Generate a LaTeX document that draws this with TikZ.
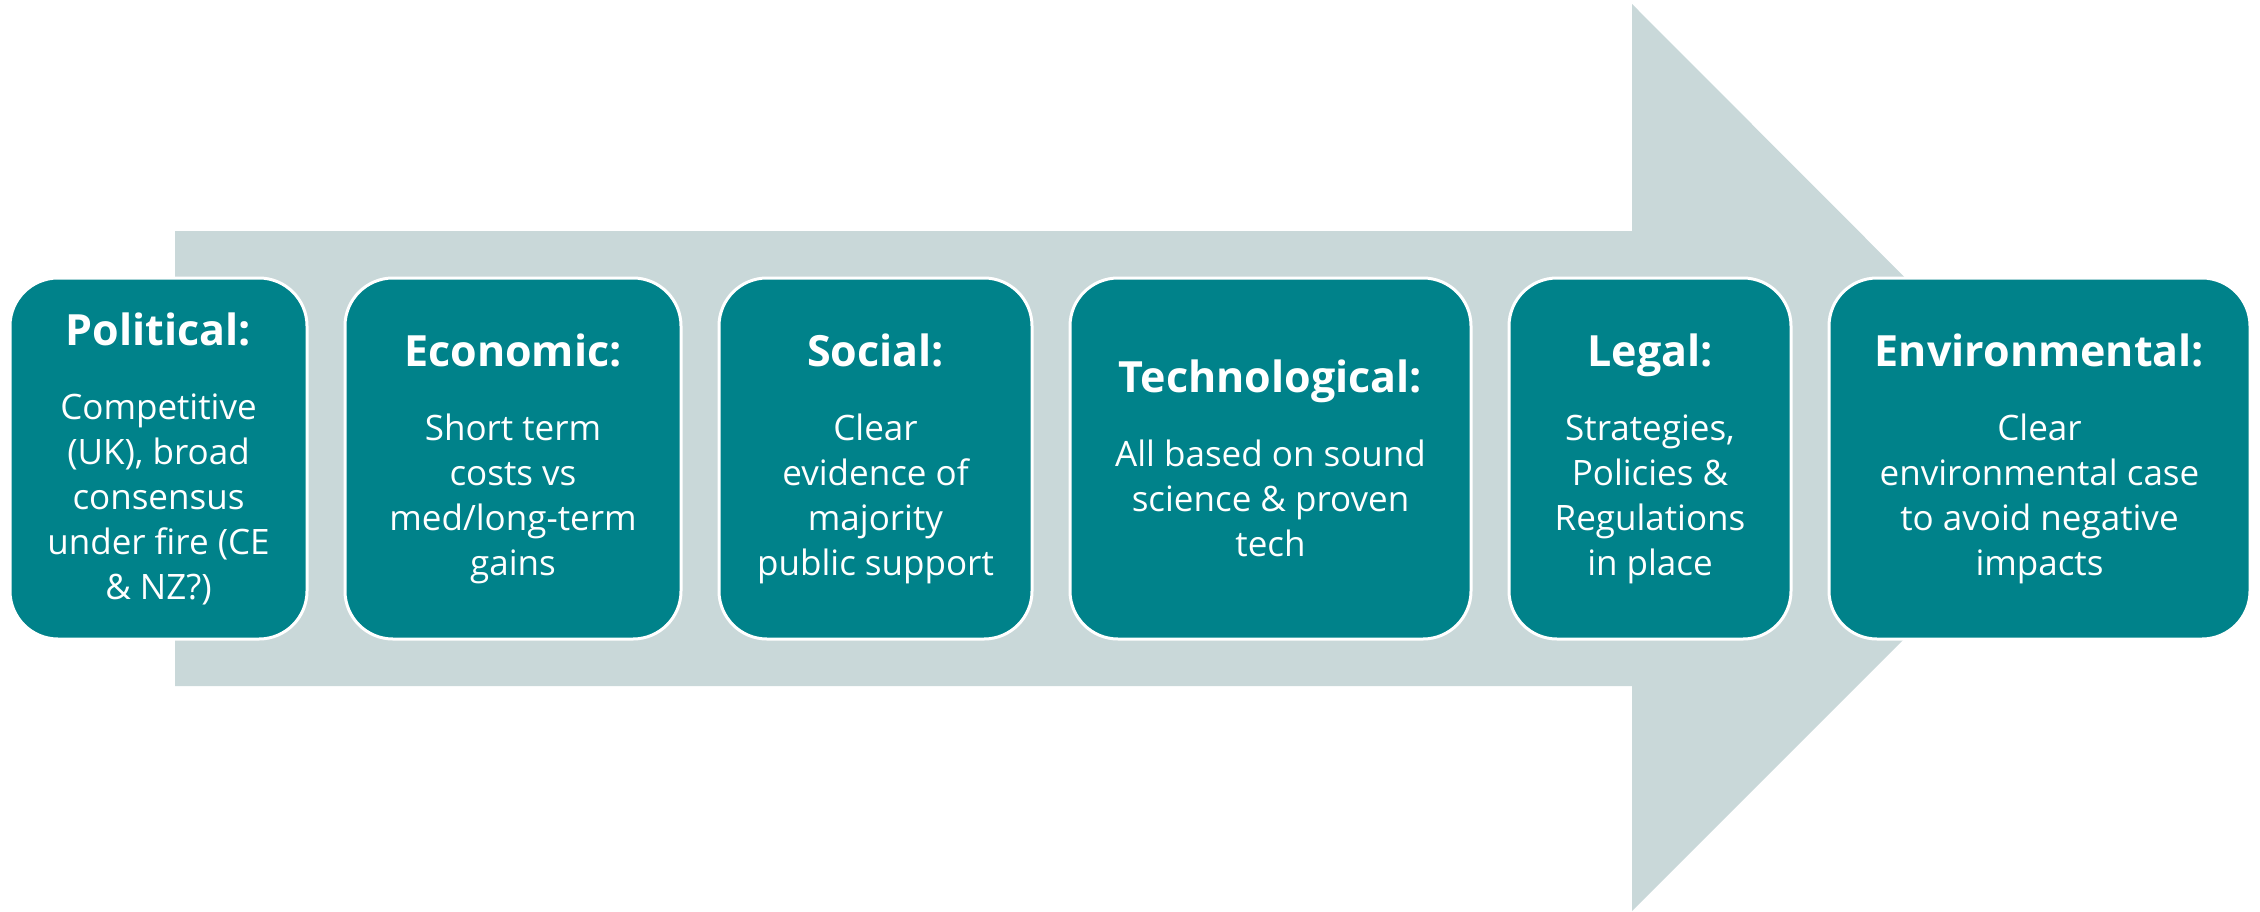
\documentclass[tikz,border=0pt]{standalone}
\usepackage{fontspec}
\setmainfont{Open Sans}
\usetikzlibrary{positioning}
\definecolor{pestTeal}{RGB}{0,130,138}
\definecolor{arrowGrey}{RGB}{201,216,217}
\newcommand{\pestHead}[1]{{\fontsize{21.5pt}{26pt}\selectfont\bfseries #1}\\[14.5pt]}
\begin{document}
\begin{tikzpicture}[x=0.5pt,y=-0.5pt,
  pestbox/.style={draw=white,line width=1.5pt,fill=pestTeal,text=white,
    rounded corners=24pt,minimum height=180.5pt,inner sep=0pt,outer sep=0pt,
    align=center,font=\fontsize{17.5pt}{22.5pt}\selectfont}]
\useasboundingbox (0,0) rectangle (2260,911);
% big arrow behind
\fill[arrowGrey] (175,231)--(1632,231)--(1632,4)--(2085,458)--(1632,911)--(1632,686)--(175,686)--cycle;
\node[pestbox,minimum width=148.5pt] (pol) at (158.5,458.5)
  {\pestHead{Political:}Competitive\\(UK), broad\\consensus\\under fire (CE\\\& NZ?)};
\node[pestbox,minimum width=168pt,right=19pt of pol] (eco)
  {\pestHead{Economic:}Short term\\costs vs\\med/long-term\\gains};
\node[pestbox,minimum width=156.5pt,right=19pt of eco] (soc)
  {\pestHead{Social:}Clear\\evidence of\\majority\\public support};
\node[pestbox,minimum width=200.5pt,right=19pt of soc] (tech)
  {\pestHead{Technological:}All based on sound\\science \& proven\\tech};
\node[pestbox,minimum width=141pt,right=19pt of tech] (leg)
  {\pestHead{Legal:}Strategies,\\Policies \&\\Regulations\\in place};
\node[pestbox,minimum width=210.5pt,right=19pt of leg] (env)
  {\pestHead{Environmental:}Clear\\environmental case\\to avoid negative\\impacts};
\end{tikzpicture}
\end{document}
